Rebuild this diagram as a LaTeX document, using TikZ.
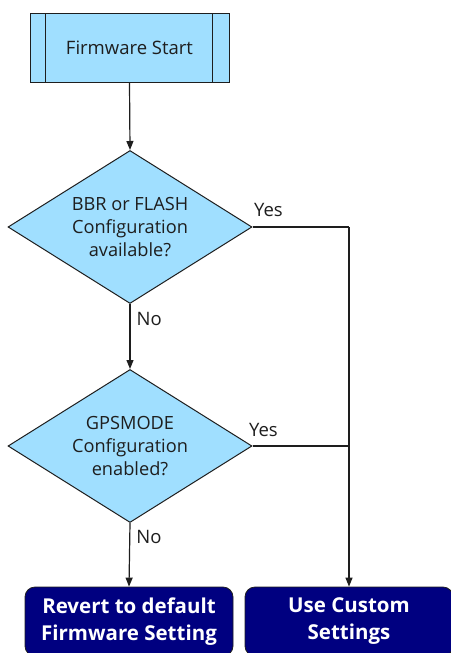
\documentclass[tikz,border=0pt]{standalone}
\usepackage{fontspec}
\setmainfont{Open Sans}
\usetikzlibrary{arrows.meta, positioning, shapes.geometric}
\definecolor{skyfill}{HTML}{A0DFFF}
\definecolor{navybox}{HTML}{000080}
\definecolor{inkgray}{HTML}{1E1E1E}

\begin{document}
\begin{tikzpicture}[x=1pt, y=-1pt,
  >={Triangle[length=9pt, width=7pt]},
  subproc/.style={draw=inkgray, line width=1pt, fill=skyfill,
    minimum width=199pt, minimum height=69pt, inner sep=0pt,
    font=\fontsize{18.5}{22}\selectfont, text=inkgray,
    path picture={
      \draw[inkgray, line width=1pt]
        ([xshift=15pt]path picture bounding box.north west) --
        ([xshift=15pt]path picture bounding box.south west);
      \draw[inkgray, line width=1pt]
        ([xshift=-17pt]path picture bounding box.north east) --
        ([xshift=-17pt]path picture bounding box.south east);
    }},
  decision/.style={diamond, draw=inkgray, line width=1pt, fill=skyfill,
    aspect=1.6, minimum width=244pt, minimum height=153pt, inner sep=0pt,
    align=center, font=\fontsize{18.2}{23.3}\selectfont, text=inkgray},
  action/.style={draw=inkgray, line width=0.8pt, fill=navybox,
    rounded corners=10pt, minimum width=208pt, minimum height=69pt,
    align=center, text=white, font=\bfseries\fontsize{20.5}{27}\selectfont},
  lbl/.style={font=\fontsize{18.5}{22}\selectfont, text=inkgray, inner sep=0pt},
  arr/.style={->, line width=1.2pt, inkgray},
  wire/.style={line width=1.2pt, inkgray},
]

% Page frame
\useasboundingbox (0,0) rectangle (450,653);

% =============================================
% Flow nodes
% =============================================
\node[subproc] (start) at (129.5,47.5) {Firmware Start};

\node[decision] (cfgavail) at (130,227)
  {BBR or FLASH\\Configuration\\available?};

\node[decision] (gpsmode) at (130,446)
  {GPSMODE\\Configuration\\enabled?};

\node[action] (revert) at (129,621.5)
  {Revert to default\\Firmware Setting};

\node[action] (custom) at (349,621.5)
  {Use Custom\\Settings};

% Corner and junction on the right-hand trunk
\coordinate (yescorner) at (349,227);
\coordinate (yesjoin) at (349,446);

% =============================================
% Connectors
% =============================================
\draw[arr] (start.south) -- (cfgavail.north);

\draw[arr] (cfgavail.south) -- node[lbl, pos=0.23, anchor=west, xshift=6pt] {No}
  (gpsmode.north);

\draw[arr] (gpsmode.south) -- node[lbl, pos=0.22, anchor=west, xshift=6pt] {No}
  (revert.north);

\draw[wire] (cfgavail.east)
  node[lbl, anchor=base west, xshift=1pt, yshift=11pt] {Yes} -- (yescorner);
\draw[arr] (yescorner) -- (custom.north);

\draw[wire] (gpsmode.east)
  node[lbl, anchor=base west, xshift=-4pt, yshift=10pt] {Yes} -- (yesjoin);

\end{tikzpicture}
\end{document}
